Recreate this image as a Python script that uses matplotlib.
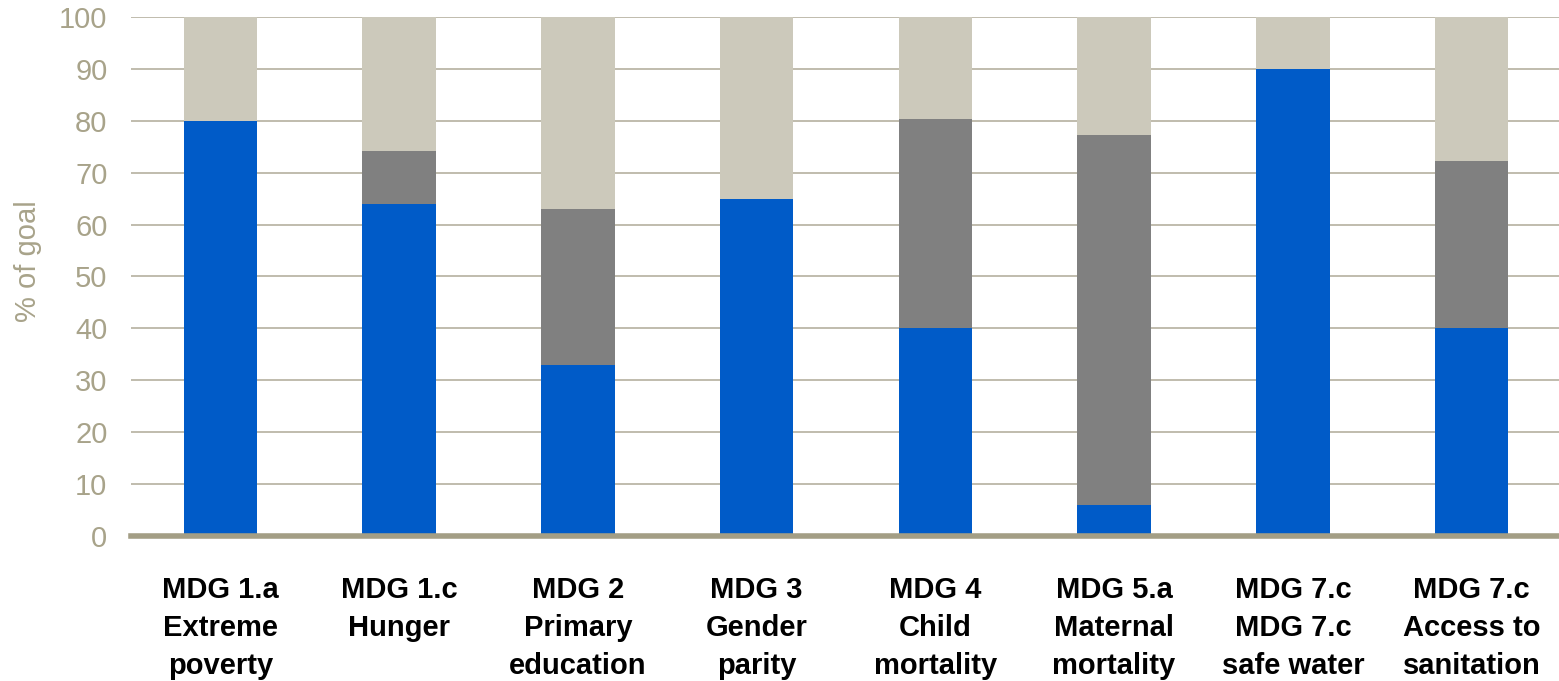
import numpy as np
import matplotlib.pyplot as plt

plt.rcParams['font.family'] = ['Liberation Sans', 'DejaVu Sans']

labels = ['MDG 1.a\nExtreme\npoverty', 'MDG 1.c\nHunger', 'MDG 2\nPrimary\neducation',
          'MDG 3\nGender\nparity', 'MDG 4\nChild\nmortality', 'MDG 5.a\nMaternal\nmortality',
          'MDG 7.c\nMDG 7.c\nsafe water', 'MDG 7.c\nAccess to\nsanitation']
achieved = [80, 64, 33, 65, 40, 6, 90, 40]
projected = [0, 10.2, 30, 0, 40.3, 71.3, 0, 32.3]
remaining = [100 - a - p for a, p in zip(achieved, projected)]

blue = '#005BC8'
grey = '#808080'
beige = '#CCC9BB'
axcol = '#A39E85'
txtcol = '#A8A38A'

fig = plt.figure(figsize=(15.59, 6.81), dpi=100)
ax = fig.add_axes([131 / 1559, 0.213, 1430 / 1559, 0.762])

x = np.arange(len(labels))
w = 0.41
ax.bar(x, achieved, w, color=blue, zorder=3)
ax.bar(x, projected, w, bottom=achieved, color=grey, zorder=3)
ax.bar(x, remaining, w, bottom=np.array(achieved) + np.array(projected), color=beige, zorder=3)

ax.set_xlim(-0.5, len(labels) - 0.5)
ax.set_ylim(0, 100)
ax.set_yticks(range(0, 101, 10))
ax.yaxis.grid(True, color='#B5B0A0', linewidth=1.2, zorder=0)
ax.set_axisbelow(True)

for s in ['left', 'right', 'top']:
    ax.spines[s].set_visible(False)
ax.spines['bottom'].set_color(axcol)
ax.spines['bottom'].set_linewidth(4)
ax.spines['bottom'].set_zorder(4)

ax.tick_params(axis='y', length=0, labelsize=21, labelcolor=txtcol, pad=17)
ax.tick_params(axis='x', length=0, pad=29)
ax.set_xticks(x)
ax.set_xticklabels(labels, fontsize=21, fontweight='bold', linespacing=1.45)
ax.set_ylabel('% of goal', fontsize=21, color=txtcol)
ax.yaxis.set_label_coords(-0.062, 0.53)

fig.savefig('out.png', dpi=100)
